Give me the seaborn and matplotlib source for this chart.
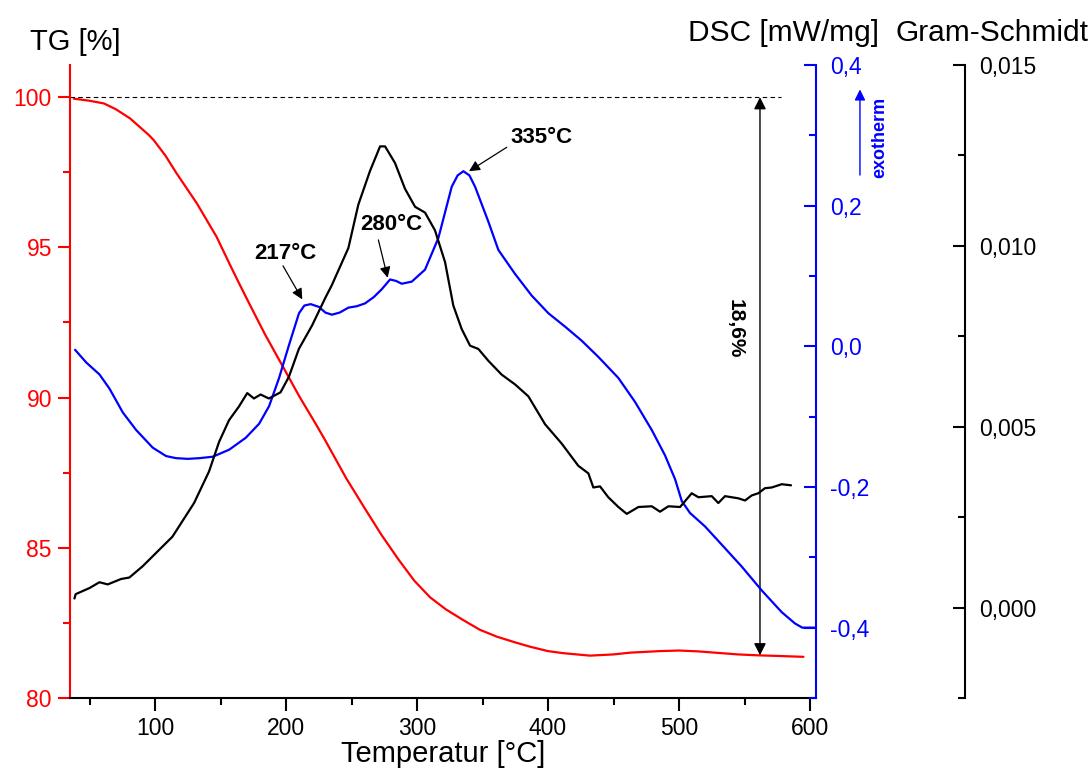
import matplotlib
matplotlib.use("Agg")
import matplotlib.pyplot as plt
import seaborn as sns
from matplotlib.ticker import MultipleLocator, FuncFormatter, FixedLocator

# TG (red, left axis)
tg_temp = [38, 50, 61, 70, 81, 95, 99, 108, 116.5, 121, 132, 147, 158, 165, 172.5, 184,
           198, 210, 223, 230, 246, 260, 273, 286, 298, 310, 322, 335, 348, 361, 375,
           386, 400, 412, 432, 450, 463, 485, 500, 515, 530, 545, 560, 575, 595]
tg_mass = [99.95, 99.88, 99.79, 99.6, 99.29, 98.75, 98.57, 98.05, 97.46, 97.17, 96.46,
           95.35, 94.35, 93.73, 93.08, 92.1, 91.0, 90.05, 89.1, 88.57, 87.31, 86.32, 85.42,
           84.6, 83.9, 83.35, 82.95, 82.6, 82.27, 82.04, 81.85, 81.71, 81.56, 81.49,
           81.41, 81.45, 81.51, 81.56, 81.58, 81.55, 81.5, 81.45, 81.42, 81.4, 81.37]

# DSC (blue, first right axis)
dsc_temp = [39, 47.5, 57.6, 65.2, 75.4, 85.6, 98.2, 108.4, 116, 125, 134, 144, 156.6,
            169.3, 179.5, 187.1, 194.7, 202.3, 209.9, 214, 218.8, 225.2, 230, 235, 241,
            247.6, 254, 260.3, 267, 273, 279.4, 284, 288.3, 296, 306.1, 316.3, 326.5,
            331, 335.4, 340, 344.3, 354.5, 362.1, 374.8, 387.6, 400.3, 413, 425.7, 438.4,
            453.7, 466.4, 479.2, 489.3, 497, 502.1, 508.4, 519.8, 532.6, 547.8, 563.1,
            578.4, 588.5, 594.1, 603.8]
dsc_signal = [-0.005, -0.023, -0.040, -0.060, -0.094, -0.119, -0.144, -0.156, -0.159,
              -0.160, -0.159, -0.157, -0.147, -0.130, -0.110, -0.085, -0.045, 0.002,
              0.047, 0.058, 0.060, 0.056, 0.048, 0.045, 0.048, 0.055, 0.057, 0.061, 0.07,
              0.081, 0.095, 0.093, 0.089, 0.092, 0.109, 0.154, 0.227, 0.243, 0.249, 0.243,
              0.227, 0.177, 0.137, 0.103, 0.072, 0.047, 0.028, 0.008, -0.015, -0.045,
              -0.079, -0.119, -0.155, -0.189, -0.220, -0.237, -0.256, -0.282, -0.313,
              -0.347, -0.378, -0.394, -0.400, -0.400]

# Gram-Schmidt (black, second right axis)
gs_temp = [38.5, 39.4, 50, 57.6, 63.9, 74.1, 80.4, 90.5, 99.4, 113.3, 129.8, 141.2,
           148.9, 156.5, 164.1, 170.4, 175.5, 180.6, 186.9, 195.8, 202.2, 209.8, 219.9,
           230.1, 234.8, 247.6, 255.2, 264.1, 271.8, 275.6, 283.2, 290.8, 298.5, 306.1,
           313.7, 321.4, 327.7, 334.1, 340.5, 346.8, 354.5, 364.6, 374.8, 385, 397.7,
           410.5, 423.1, 430.8, 434.6, 439.7, 446, 453.7, 460.1, 469, 479.2, 485.5,
           491.9, 500.8, 509.7, 514.8, 525, 530, 535.1, 545.3, 550.4, 555.5, 560.5,
           565.6, 570.8, 578.4, 585.5]
gs_signal = [0.00025, 0.00037, 0.00054, 0.00070, 0.00064, 0.00079, 0.00083, 0.00114,
             0.00146, 0.00196, 0.00289, 0.00376, 0.00458, 0.00518, 0.00556, 0.00593,
             0.00578, 0.00589, 0.00578, 0.00595, 0.00638, 0.00715, 0.00780, 0.00857,
             0.00890, 0.00994, 0.01114, 0.01207, 0.01275, 0.01275, 0.01229, 0.01158,
             0.01108, 0.01092, 0.01043, 0.00955, 0.00835, 0.00770, 0.00724, 0.00715,
             0.00682, 0.00644, 0.00617, 0.00584, 0.00507, 0.00453, 0.00392, 0.00371,
             0.00332, 0.00335, 0.00305, 0.00278, 0.00259, 0.00278, 0.00280, 0.00265,
             0.00280, 0.00278, 0.00316, 0.00305, 0.00308, 0.00289, 0.00308, 0.00302,
             0.00296, 0.00310, 0.00316, 0.00330, 0.00332, 0.00341, 0.00338]

x_ticks = [100, 200, 300, 400, 500, 600]
tg_ticks = [80, 85, 90, 95, 100]
dsc_ticks = [-0.4, -0.2, 0.0, 0.2, 0.4]
gs_ticks = [0.000, 0.005, 0.010, 0.015]

peak_labels = ["217°C", "280°C", "335°C"]
mass_loss_label = "18,6%"

sns.set_style("ticks", {"text.color": "black", "axes.labelcolor": "black",
                        "xtick.color": "black", "ytick.color": "black",
                        "axes.edgecolor": "black"})
plt.rcParams["font.family"] = ["Liberation Sans", "DejaVu Sans"]

fig = plt.figure(figsize=(10.92, 7.71), dpi=100)
ax = fig.add_axes([0.0641, 0.0947, 0.6832, 0.821])
ax_dsc = ax.twinx()
ax_gs = ax.twinx()
ax_gs.spines["right"].set_position(("axes", 1.2))

lw = 1.6
sns.lineplot(x=tg_temp, y=tg_mass, ax=ax, color="red", lw=lw)
sns.lineplot(x=dsc_temp, y=dsc_signal, ax=ax_dsc, color="blue", lw=lw)
sns.lineplot(x=gs_temp, y=gs_signal, ax=ax_gs, color="black", lw=lw)

ax.set_xlim(35.1, 604.6)
ax.set_ylim(80, 101.07)
ax_dsc.set_ylim(-0.5, 0.4)
ax_gs.set_ylim(-0.0025, 0.015)

comma = lambda fmt: FuncFormatter(lambda v, p: (fmt % v).replace(".", ","))

# main axis
for s in ["top", "right"]:
    ax.spines[s].set_visible(False)
ax.spines["left"].set_color("red")
ax.spines["left"].set_linewidth(1.5)
ax.spines["bottom"].set_linewidth(1.5)
ax.xaxis.set_major_locator(FixedLocator(x_ticks))
ax.xaxis.set_minor_locator(MultipleLocator(50))
ax.yaxis.set_major_locator(FixedLocator(tg_ticks))
ax.yaxis.set_minor_locator(MultipleLocator(2.5))
ax.tick_params(axis="x", which="major", direction="out", length=9, width=1.5,
               labelsize=16.5, pad=5)
ax.tick_params(axis="x", which="minor", direction="out", length=5, width=1.5)
ax.tick_params(axis="y", which="major", direction="out", length=9, width=1.5,
               color="red", labelcolor="red", labelsize=16.5, pad=4)
ax.tick_params(axis="y", which="minor", direction="out", length=5, width=1.5, color="red")
ax.set_xlabel("Temperatur [°C]", fontsize=21, labelpad=0)
ax.set_ylabel("")

# DSC axis
for s in ["top", "left", "bottom"]:
    ax_dsc.spines[s].set_visible(False)
ax_dsc.spines["right"].set_color("blue")
ax_dsc.spines["right"].set_linewidth(1.5)
ax_dsc.yaxis.set_major_locator(FixedLocator(dsc_ticks))
ax_dsc.yaxis.set_minor_locator(MultipleLocator(0.1))
ax_dsc.yaxis.set_major_formatter(comma("%.1f"))
ax_dsc.tick_params(axis="y", which="major", direction="in", length=9, width=1.5,
                   color="blue", labelcolor="blue", labelsize=16.5, pad=10)
ax_dsc.tick_params(axis="y", which="minor", direction="in", length=5, width=1.5,
                   color="blue")
ax_dsc.set_ylabel("")

# Gram-Schmidt axis
for s in ["top", "left", "bottom"]:
    ax_gs.spines[s].set_visible(False)
ax_gs.spines["right"].set_linewidth(1.5)
ax_gs.yaxis.set_major_locator(FixedLocator(gs_ticks))
ax_gs.yaxis.set_minor_locator(MultipleLocator(0.0025))
ax_gs.yaxis.set_major_formatter(comma("%.3f"))
ax_gs.tick_params(axis="y", which="major", direction="in", length=9, width=1.5,
                  labelsize=16.5, pad=10)
ax_gs.tick_params(axis="y", which="minor", direction="in", length=5, width=1.5)
ax_gs.set_ylabel("")

# axis titles
fig.text(0.0275, 0.9455, "TG [%]", fontsize=21, va="center", ha="left")
fig.text(0.630, 0.957, "DSC [mW/mg]", fontsize=21.5, va="center", ha="left")
fig.text(0.8196, 0.957, "Gram-Schmidt", fontsize=21.5, va="center", ha="left")

# 100 % reference line and mass loss arrow
ax.hlines(100, 35.1, 578, colors="black", linestyles=(0, (4, 3)), lw=0.8)
ax.annotate("", xy=(561.8, 81.42), xytext=(561.8, 100),
            arrowprops=dict(arrowstyle="<|-|>", color="black", lw=1.0,
                            shrinkA=0, shrinkB=0, mutation_scale=18))
ax.text(542.7, 92.28, mass_loss_label, rotation=270, fontsize=15, fontweight="bold",
        ha="center", va="center")

# DSC peak labels
label_pos = [(199.2, 0.1314), (280.7, 0.1735), (395.2, 0.297)]
arrow_tail = [(197.7, 0.1144), (270.5, 0.1513), (368.5, 0.283)]
arrow_tip = [(212.4, 0.0667), (277.6, 0.0975), (339.7, 0.249)]
for lab, pos, tail, tip in zip(peak_labels, label_pos, arrow_tail, arrow_tip):
    ax_dsc.text(pos[0], pos[1], lab, fontsize=16, fontweight="bold",
                ha="center", va="center")
    ax_dsc.annotate("", xy=tip, xytext=tail,
                    arrowprops=dict(arrowstyle="-|>", color="black", lw=0.9,
                                    shrinkA=0, shrinkB=0, mutation_scale=16))

# exotherm indicator
fig.text(0.806, 0.8223, "exotherm", rotation=90, color="blue", fontsize=13,
         fontweight="bold", ha="center", va="center")
ax.annotate("", xy=(0.7875, 0.884), xytext=(0.7875, 0.773), xycoords="figure fraction",
            textcoords="figure fraction",
            arrowprops=dict(arrowstyle="-|>", color="blue", lw=1.0,
                            shrinkA=0, shrinkB=0, mutation_scale=16))

fig.savefig("out.png", dpi=100)
